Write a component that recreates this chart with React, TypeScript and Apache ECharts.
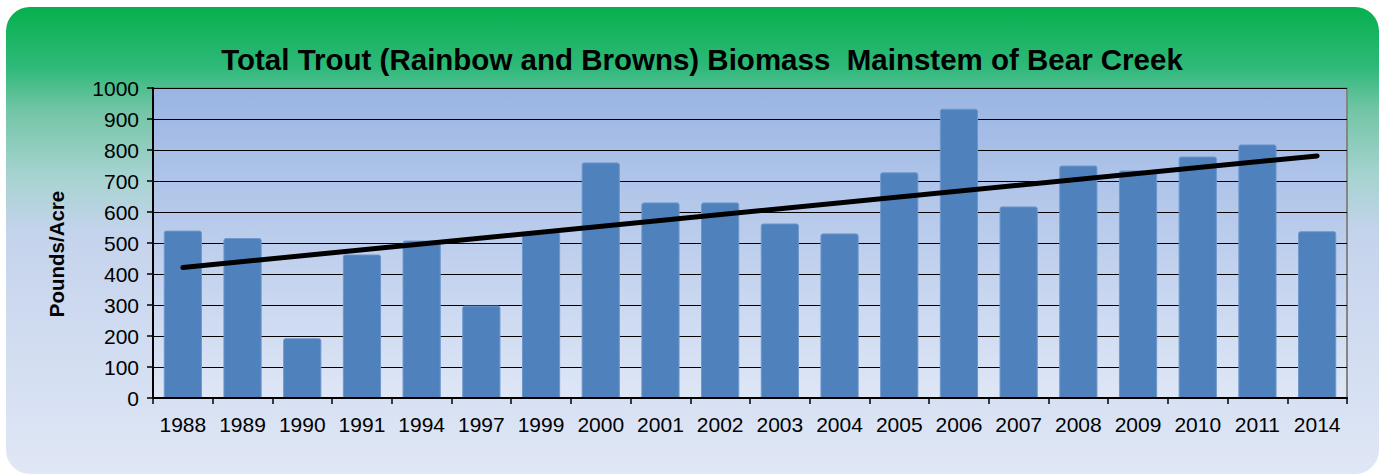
import React, { useEffect, useRef } from "react";
import * as echarts from "echarts";

const years = ["1988","1989","1990","1991","1994","1997","1999","2000","2001","2002","2003","2004","2005","2006","2007","2008","2009","2010","2011","2014"];
const biomass = [540, 516, 193, 463, 508, 298, 535, 760, 631, 631, 563, 531, 728, 933, 618, 750, 734, 779, 818, 538];
const trend = [421, null, null, null, null, null, null, null, null, null, null, null, null, null, null, null, null, null, null, 781];
const yTicks = { min: 0, max: 1000, interval: 100 };
const titleText = "Total Trout (Rainbow and Browns) Biomass  Mainstem of Bear Creek";
const yName = "Pounds/Acre";

export default function App() {
  const ref = useRef<HTMLDivElement>(null);
  useEffect(() => {
    document.body.style.margin = "0";
    const chart = echarts.init(ref.current!, null, { renderer: "svg" });
    const font = "Arial, 'Liberation Sans', sans-serif";
    chart.setOption({
      animation: false,
      backgroundColor: "#ffffff",
      graphic: [
        {
          type: "rect",
          z: -10,
          silent: true,
          shape: { x: 6, y: 7, width: 1373, height: 467, r: 24 },
          style: {
            fill: new echarts.graphic.LinearGradient(0, 0, 0, 1, [
              { offset: 0, color: "#06b04d" },
              { offset: 0.13, color: "#2fb97a" },
              { offset: 0.22, color: "#72c5a6" },
              { offset: 0.36, color: "#a6d3d0" },
              { offset: 0.48, color: "#c4d3ec" },
              { offset: 1, color: "#e0e7f6" },
            ]),
          },
        },
        {
          type: "text",
          x: 56,
          y: 254,
          rotation: Math.PI / 2,
          silent: true,
          style: {
            text: yName,
            fontFamily: font,
            fontSize: 20.5,
            fontWeight: "bold",
            fill: "#000",
            align: "center",
            verticalAlign: "middle",
          },
        },
      ],
      title: {
        text: titleText,
        left: 697,
        top: 39,
        textAlign: "center",
        textStyle: { fontFamily: font, fontSize: 29.5, fontWeight: "bold", color: "#000" },
      },
      grid: {
        left: 153,
        right: 40,
        top: 88,
        bottom: 77,
        show: true,
        borderColor: "#858585",
        borderWidth: 2,
        backgroundColor: new echarts.graphic.LinearGradient(0, 0, 0, 1, [
          { offset: 0, color: "#9ab5e3" },
          { offset: 1, color: "#dfe7f6" },
        ]),
      },
      xAxis: {
        type: "category",
        data: years,
        axisLine: { lineStyle: { color: "#000", width: 2 } },
        axisTick: { show: true, interval: 0, length: 6, lineStyle: { color: "#000", width: 1.5 } },
        axisLabel: { color: "#000", fontFamily: font, fontSize: 21, margin: 16, interval: 0 },
        z: 5,
      },
      yAxis: {
        type: "value",
        min: yTicks.min,
        max: yTicks.max,
        interval: yTicks.interval,
        axisLine: { show: true, lineStyle: { color: "#000", width: 2 } },
        axisTick: { show: true, length: 6, lineStyle: { color: "#000", width: 1.5 } },
        axisLabel: {
          color: "#000",
          fontFamily: font,
          fontSize: 21,
          margin: 14,
          formatter: (v: number) => String(v),
        },
        splitLine: { show: true, lineStyle: { color: "#000", width: 1 } },
      },
      series: [
        {
          type: "bar",
          data: biomass,
          barWidth: "64%",
          itemStyle: {
            color: "#4f81bd",
            borderColor: "#6e98cc",
            borderWidth: 1,
            borderRadius: [2, 2, 0, 0],
          },
          z: 2,
        },
        {
          type: "line",
          data: trend,
          connectNulls: true,
          symbol: "none",
          lineStyle: { color: "#000", width: 5, cap: "round" },
          z: 4,
        },
      ],
    });
    return () => chart.dispose();
  }, []);
  return (
    <div
      ref={ref}
      style={{ position: "absolute", left: 0, top: 0, width: 1387, height: 475 }}
    />
  );
}
